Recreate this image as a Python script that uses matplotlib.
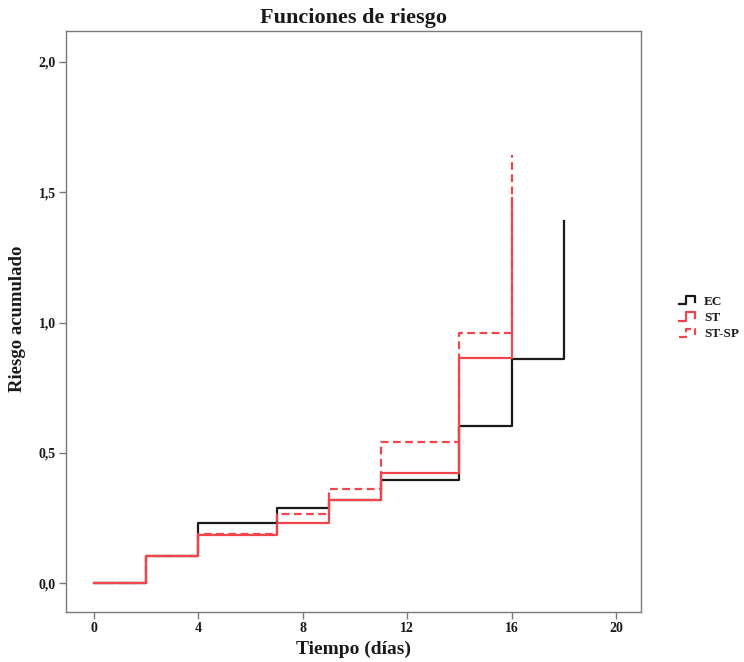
"""Cumulative hazard step curves (Funciones de riesgo) for three groups."""
import matplotlib
matplotlib.use("Agg")
import matplotlib.pyplot as plt
from matplotlib.legend_handler import HandlerBase
from matplotlib.lines import Line2D
from matplotlib.ticker import FuncFormatter

# event times (days) and cumulative hazard after each step
ec_time = [0, 2, 4, 7, 9, 11, 14, 16, 18]
ec_risk = [0.0, 0.103, 0.229, 0.287, 0.319, 0.395, 0.604, 0.861, 1.388]

st_time = [0, 2, 4, 7, 9, 11, 14, 16]
st_risk = [0.0, 0.105, 0.185, 0.231, 0.319, 0.423, 0.865, 1.477]

stsp_time = [0, 2, 4, 7, 9, 11, 14, 16]
stsp_risk = [0.0, 0.105, 0.19, 0.265, 0.361, 0.542, 0.961, 1.643]

x_ticks = [0, 4, 8, 12, 16, 20]
y_ticks = [0.0, 0.5, 1.0, 1.5, 2.0]

INK = "#1a1a1a"
RED = "#f0454b"
FRAME = "#7a7a7a"

plt.rcParams["font.family"] = ["Liberation Serif", "DejaVu Serif"]
plt.rcParams["font.weight"] = "bold"


class HandlerStep(HandlerBase):
    """Legend key drawn as a small step, like the SPSS output."""

    def create_artists(self, legend, orig_handle, xdescent, ydescent,
                       width, height, fontsize, trans):
        w, h = width, height
        xs = [-xdescent + f * w for f in (0.0, 0.4, 0.4, 0.85, 0.85)]
        ys = [-ydescent + f * h for f in (0.05, 0.05, 0.95, 0.95, 0.3)]
        line = Line2D(xs, ys, color=orig_handle.get_color(),
                      linestyle=orig_handle.get_linestyle(),
                      linewidth=orig_handle.get_linewidth())
        line.set_transform(trans)
        return [line]


fig = plt.figure(figsize=(7.44, 6.62), dpi=100, facecolor="white")
ax = fig.add_axes([66 / 744, 1 - 612 / 662, (641 - 66) / 744, (612 - 31) / 662])

h_ec, = ax.step(ec_time, ec_risk, where="post", color=INK, lw=1.6, label="EC")
h_st, = ax.step(st_time, st_risk, where="post", color=RED, lw=1.6, label="ST")
h_sp, = ax.step(stsp_time, stsp_risk, where="post", color=RED, lw=1.6,
                linestyle=(0, (3.5, 2)), label="ST-SP")

ax.set_xlim(-1.07, 20.96)
ax.set_ylim(-0.111, 2.119)
ax.set_xticks(x_ticks)
ax.set_yticks(y_ticks)
ax.yaxis.set_major_formatter(FuncFormatter(lambda v, p: f"{v:.1f}".replace(".", ",")))

for side in ("left", "right", "top", "bottom"):
    ax.spines[side].set_color(FRAME)
    ax.spines[side].set_linewidth(1.0)
ax.tick_params(axis="both", direction="out", length=5, width=1.0,
               color=FRAME, labelsize=10, labelcolor=INK, pad=2.5)
for lab in ax.get_xticklabels() + ax.get_yticklabels():
    lab.set_fontweight("bold")

ax.set_xlabel("Tiempo (días)", fontsize=14, fontweight="bold", color=INK)
ax.set_ylabel("Riesgo acumulado", fontsize=13.5, fontweight="bold", color=INK)
ax.xaxis.set_label_coords(0.5, -0.05)
ax.yaxis.set_label_coords(-0.07, 0.505)
ax.set_title("Funciones de riesgo", fontsize=16, fontweight="bold", color=INK, pad=6)

leg = fig.legend(handles=[h_ec, h_st, h_sp], loc="center left",
                 bbox_to_anchor=(667 / 744, 1 - 318 / 662), frameon=False,
                 fontsize=9.5, handlelength=1.4, handleheight=0.7, handletextpad=0.5,
                 labelspacing=0.3, handler_map={Line2D: HandlerStep()})
for text in leg.get_texts():
    text.set_color(INK)
    text.set_fontweight("bold")

fig.savefig("out.png", dpi=100, facecolor="white")
